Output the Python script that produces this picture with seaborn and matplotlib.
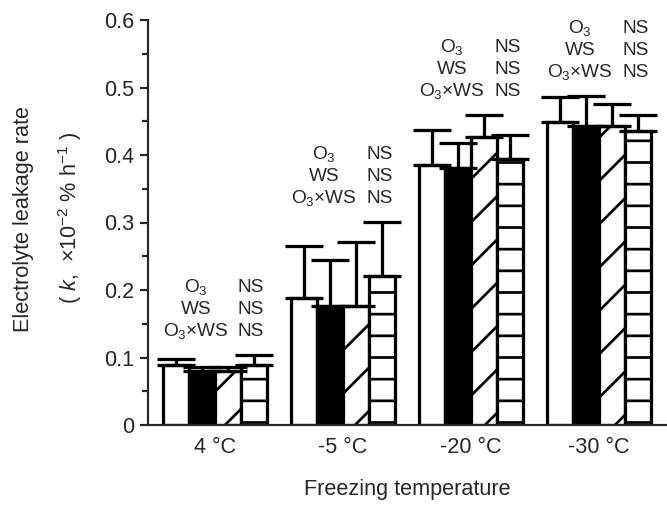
import matplotlib
matplotlib.use("Agg")
import matplotlib.pyplot as plt
import seaborn as sns
import pandas as pd
import numpy as np

# ---- data ----
temps = ["4 °C", "-5 °C", "-20 °C", "-30 °C"]
treatments = ["Control", "O3", "WS", "O3xWS"]
control = [0.089, 0.188, 0.385, 0.449]
ozone = [0.080, 0.176, 0.381, 0.443]
water = [0.080, 0.176, 0.427, 0.443]
both = [0.089, 0.221, 0.394, 0.436]
err_control = [0.009, 0.077, 0.052, 0.037]
err_ozone = [0.006, 0.068, 0.037, 0.044]
err_water = [0.006, 0.095, 0.032, 0.033]
err_both = [0.015, 0.080, 0.036, 0.023]
effect_labels = ["O$_3$", "WS", "O$_3$×WS"]
effect_sig = ["NS", "NS", "NS"]
yticks = [0, 0.1, 0.2, 0.3, 0.4, 0.5, 0.6]
ytick_labels = ["0", "0.1", "0.2", "0.3", "0.4", "0.5", "0.6"]

values = [control, ozone, water, both]
errors = [err_control, err_ozone, err_water, err_both]

df = pd.DataFrame({
    "temp": np.repeat([temps], 4, axis=0).ravel(),
    "treatment": np.repeat(treatments, 4),
    "rate": np.concatenate(values),
})

DPI = 130
sns.set_style("ticks")
plt.rcParams["font.family"] = ["Liberation Sans", "DejaVu Sans"]
plt.rcParams["mathtext.fontset"] = "custom"
plt.rcParams["mathtext.rm"] = "Liberation Sans"
plt.rcParams["mathtext.it"] = "Liberation Sans:italic"
plt.rcParams["hatch.linewidth"] = 1.5
plt.rcParams["hatch.color"] = "black"

fig = plt.figure(figsize=(667 / DPI, 506 / DPI), dpi=DPI)
ax = fig.add_axes([148 / 667, 81 / 506, 1 - 148 / 667, (425 - 20) / 506])

sns.barplot(data=df, x="temp", y="rate", hue="treatment", order=temps,
            hue_order=treatments, palette=["white", "black", "white", "white"],
            saturation=1, edgecolor="black", linewidth=1.8, width=0.81,
            errorbar=None, legend=False, ax=ax)

hatches = [None, None, "/", "-"]
for cont, h, vals, errs in zip(ax.containers, hatches, values, errors):
    xs = []
    for p in cont.patches:
        if h:
            p.set_hatch(h)
        p.set_edgecolor("black")
        xs.append(p.get_x() + p.get_width() / 2)
    ax.errorbar(xs, vals, yerr=[np.zeros(len(errs)), errs], fmt="none",
                ecolor="black", elinewidth=1.8, capsize=10.5, capthick=1.8,
                zorder=3)

# significance annotations
fs = 12
fa = 10.5
line_step = 0.0325
for i in range(len(temps)):
    top = max(v[i] + e[i] for v, e in zip(values, errors))
    bottom_center = top + 0.038
    for k, (lab, sig) in enumerate(zip(effect_labels, effect_sig)):
        yc = bottom_center + (2 - k) * line_step
        yb = yc - 0.0100
        ax.text(i - 0.15, yb, lab, ha="center", va="baseline", fontsize=fa)
        ax.text(i + 0.18, yb, sig, ha="left", va="baseline", fontsize=fa)

ax.set_ylim(0, 0.6)
ax.set_xlim(-0.523, 3.531)
ax.set_yticks(yticks)
ax.set_yticklabels(ytick_labels, fontsize=fs)
ax.set_yticks(np.arange(0.05, 0.6, 0.1), minor=True)
ax.tick_params(axis="y", which="major", length=4.4, width=1.2, pad=3)
ax.tick_params(axis="y", which="minor", length=3.3, width=1.2)
ax.tick_params(axis="x", length=0, pad=6.5, labelsize=fs)
for s in ["top", "right"]:
    ax.spines[s].set_visible(False)
for s in ["left", "bottom"]:
    ax.spines[s].set_linewidth(1.2)

ax.set_xlabel("Freezing temperature", fontsize=fs, labelpad=12)
ax.set_ylabel("")
fig.text(24 / 667, (506 - 219) / 506, "Electrolyte leakage rate",
         rotation=90, ha="center", va="center", fontsize=fs)
fig.text(70 / 667, (506 - 218) / 506,
         r"( $\mathit{k}$,  ×10$^{-2}$ % h$^{-1}$ )",
         rotation=90, ha="center", va="center", fontsize=fs)

fig.savefig("out.png", dpi=DPI)
